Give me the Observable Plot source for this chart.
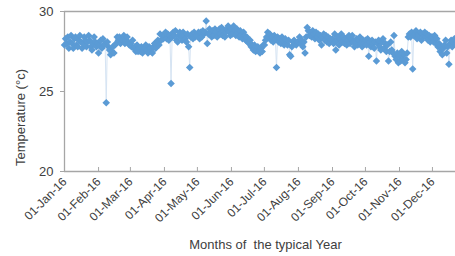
<!DOCTYPE html>
<html>
<head>
<meta charset="utf-8">
<script src="https://cdn.jsdelivr.net/npm/d3@7"></script>
<script src="https://cdn.jsdelivr.net/npm/@observablehq/plot@0.6"></script>
<style>
  html, body { margin: 0; padding: 0; background: #fff; }
  #chart { width: 455px; height: 256px; overflow: hidden; }
</style>
</head>
<body>
<div id="chart"></div>
<script>
// Daily temperatures (°C), one array per month of 2016
const jan = [27.9,28.3,28.0,28.4,27.7,28.1,28.5,28.0,27.7,28.3,28.4,27.9,27.8,28.2,28.5,28.1,27.7,28.0,28.4,28.2,27.8,28.1,28.5,28.2,27.8,27.6,28.0,28.4,28.1,27.8,28.0];
const feb = [27.4,27.9,28.2,27.7,28.3,27.9,28.0,24.3,28.1,27.8,27.6,27.3,27.5,27.8,27.4,27.9,28.0,28.4,28.2,28.4,28.0,28.3,28.2,28.5,28.0,28.2,28.4,28.1,27.9];
const mar = [28.0,27.8,28.2,27.7,27.8,27.5,27.9,27.5,27.7,27.5,27.8,27.4,27.6,27.7,27.9,27.6,27.4,27.8,27.7,27.5,27.4,27.8,28.0,27.7,28.0,28.2,27.9,28.6,28.2,28.5,28.3];
const apr = [28.5,28.7,28.3,28.6,28.2,28.5,25.5,28.4,28.7,28.5,28.8,28.2,28.1,28.5,28.7,28.4,28.2,28.7,28.5,28.3,28.1,28.6,27.8,26.5,28.4,28.6,28.3,28.7,28.4,28.5];
const may = [28.5,28.7,28.3,28.7,28.4,28.8,28.6,28.7,29.4,28.0,28.6,28.9,28.6,28.4,28.8,28.5,28.9,28.7,28.4,28.6,28.9,28.6,29.0,28.5,28.8,28.4,28.7,28.9,29.1,28.7,28.5];
const jun = [28.9,28.6,29.1,28.8,28.5,28.9,28.7,28.4,28.8,28.5,28.3,28.7,28.5,28.2,28.4,28.1,28.0,28.2,27.8,27.9,27.6,27.9,27.5,27.6,27.8,27.5,27.4,27.7,27.5,27.9];
const jul = [27.9,28.2,28.4,28.7,28.4,28.6,28.2,28.4,28.1,28.5,28.3,26.5,28.4,28.1,28.3,28.0,28.4,28.2,27.9,28.3,28.0,27.9,28.2,27.3,27.2,27.8,28.1,28.2,28.0,27.9,28.1];
const aug = [28.1,28.4,28.0,28.2,27.8,28.1,27.4,28.4,29.0,28.8,28.5,28.7,28.4,28.8,28.6,28.3,28.7,28.4,28.6,28.2,28.5,27.9,28.4,28.6,28.2,28.5,28.1,28.4,28.0,28.3,28.2];
const sep = [28.3,28.0,28.6,27.6,28.2,28.4,27.9,28.3,28.6,28.1,28.4,28.0,28.3,27.9,28.2,28.5,28.0,28.3,28.5,28.1,27.8,28.1,28.3,27.9,28.2,28.4,28.0,27.8,28.2,28.0];
const oct = [28.2,27.9,28.3,27.2,28.1,27.8,28.2,28.0,27.7,28.1,26.9,28.0,28.2,27.8,27.6,28.1,28.3,27.7,28.0,27.5,27.9,26.9,27.5,28.1,27.6,27.4,28.5,27.2,27.0,27.4,26.8];
const nov = [27.2,26.9,27.5,27.0,27.3,26.8,27.0,27.4,28.4,28.6,28.4,28.7,26.4,28.5,28.6,28.8,28.3,28.6,28.5,28.7,28.2,28.6,28.4,28.7,28.4,28.6,28.2,28.5,28.1,28.4];
const dec = [28.4,28.1,28.5,28.0,28.3,27.8,28.0,27.5,27.8,27.3,27.7,27.9,28.2,27.4,27.8,26.7,28.0,28.2,27.8,28.1,28.3,28.0,28.2,27.8,28.1,27.9,28.0,28.2,28.1,27.9,28.0];

const yTicks = [20, 25, 30];
const yLabel = "Temperature (°c)";
const xLabel = "Months of  the typical Year";

const months = [jan, feb, mar, apr, may, jun, jul, aug, sep, oct, nov, dec];
const data = [];
months.forEach((arr, m) => arr.forEach((v, i) => data.push({date: new Date(Date.UTC(2016, m, i + 1)), temp: v})));
const monthTicks = d3.range(12).map(m => new Date(Date.UTC(2016, m, 1)));
const fmt = d3.utcFormat("%d-%b-%y");

const axisColor = "#a6a6a6";
const textColor = "#404040";
const blue = "#5b9bd5";

const chart = Plot.plot({
  width: 455,
  height: 256,
  marginLeft: 64,
  marginRight: -11,
  marginTop: 11,
  marginBottom: 85,
  style: {fontFamily: "'Liberation Sans', Arial, sans-serif", color: textColor, background: "#fff"},
  x: {type: "utc", axis: null, domain: [new Date(Date.UTC(2016, 0, 1)), new Date(Date.UTC(2017, 0, 1))]},
  y: {domain: [20, 30]},
  marks: [
    Plot.ruleY([20, 30], {stroke: axisColor, strokeWidth: 1.3}),
    Plot.ruleX([monthTicks[0]], {stroke: axisColor, strokeWidth: 1.3}),
    Plot.ruleX(monthTicks, {x: d => d, y1: 20, y2: 20.25, stroke: axisColor}),
    Plot.axisY({ticks: yTicks, tickSize: 4, tickPadding: 7, fontSize: 13, label: null, stroke: axisColor, color: textColor}),
    Plot.text(monthTicks, {x: d => d, frameAnchor: "bottom", text: d => fmt(d), rotate: -45, textAnchor: "end", dx: 3, dy: 11, fontSize: 12, fill: textColor}),
    Plot.text([yLabel], {frameAnchor: "left", textAnchor: "middle", rotate: -90, dx: -44, dy: 26, fontSize: 13, fill: textColor}),
    Plot.text([xLabel], {frameAnchor: "bottom", dy: 77, fontSize: 13, fill: textColor}),
    Plot.line(data, {x: "date", y: "temp", stroke: "#d6e4f3", strokeWidth: 1}),
    Plot.dot(data, {x: "date", y: "temp", symbol: "diamond2", r: 3.4, fill: blue, stroke: "none"})
  ]
});
document.getElementById("chart").appendChild(chart);
</script>
</body>
</html>
